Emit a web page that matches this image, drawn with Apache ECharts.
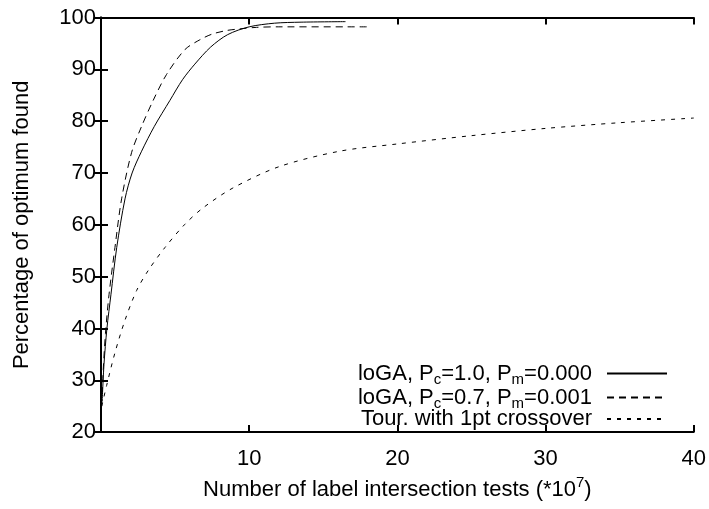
<!DOCTYPE html>
<html>
<head>
<meta charset="utf-8">
<script src="https://cdn.jsdelivr.net/npm/echarts@6/dist/echarts.min.js"></script>
<style>
  html, body { margin: 0; padding: 0; background: #fff; }
  #chart { width: 709px; height: 509px; }
</style>
</head>
<body>
<div id="chart"></div>
<script>
// values
var xFull = [0.08, 0.2, 0.4, 0.67, 1.06, 1.62, 2.1, 2.74, 3.6, 4.65, 5.5, 6.33, 7.4, 8.55, 10, 11.7, 13.5, 16.5];
var yFull = [26, 33, 40, 46.5, 55.6, 65, 70, 74.2, 79, 84, 88, 91, 94.3, 96.7, 98.2, 98.9, 99.1, 99.2];

var xMut = [0.05, 0.15, 0.3, 0.54, 0.94, 1.39, 2.07, 2.74, 3.52, 4.42, 5.66, 6.67, 7.5, 8.5, 9.36, 10.5, 12, 18.1];
var yMut = [25, 32, 39, 46.5, 55.6, 65, 74, 79, 84, 89, 93.8, 95.7, 96.8, 97.5, 97.8, 98.1, 98.2, 98.2];

var xTour = [0.05, 0.38, 0.94, 1.62, 2.4, 3.19, 4.31, 5.66, 6.9, 8.9, 12, 16.1, 20, 25, 30, 35, 40];
var yTour = [25, 29, 35.3, 41.6, 47.3, 51.2, 55.6, 60.1, 63.3, 67.1, 71.2, 74.2, 75.6, 77.2, 78.6, 79.7, 80.6];

var names = [
  'loGA, P{sub|c}=1.0, P{sub|m}=0.000',
  'loGA, P{sub|c}=0.7, P{sub|m}=0.001',
  'Tour. with 1pt crossover'
];
var xTicks = [0, 10, 20, 30, 40];
var yTicks = [20, 30, 40, 50, 60, 70, 80, 90, 100];

function pairs(xs, ys) {
  var out = [];
  for (var i = 0; i < xs.length; i++) out.push([xs[i], ys[i]]);
  return out;
}

var font = "'Liberation Sans', Arial, sans-serif";
var black = '#000';

var chart = echarts.init(document.getElementById('chart'));

var subStyle = { fontSize: 15, fontFamily: font, color: black, padding: [12, 0, 0, 0], lineHeight: 10 };

function frameAxis(extra) {
  var a = {
    type: 'value',
    axisLine: { show: true, lineStyle: { color: black, width: 2 } },
    axisTick: { show: true, inside: true, length: 7, lineStyle: { color: black, width: 2 } },
    splitLine: { show: false },
    axisLabel: { show: false }
  };
  for (var k in extra) a[k] = extra[k];
  return a;
}

function curve(name, xs, ys, dash) {
  return {
    name: name, type: 'line', data: pairs(xs, ys),
    symbol: 'none', smooth: 0.3,
    lineStyle: { color: black, width: 1, type: dash }, itemStyle: { color: black }
  };
}

var option = {
  backgroundColor: '#fff',
  animation: false,
  textStyle: { fontFamily: font },
  grid: { left: 101, right: 14, top: 17.5, bottom: 72, containLabel: false },
  legend: {
    orient: 'vertical',
    right: 36,
    top: 355,
    align: 'right',
    itemWidth: 60,
    itemHeight: 14,
    itemGap: -3,
    selectedMode: false,
    data: names,
    itemStyle: { opacity: 0 },
    textStyle: {
      fontSize: 22, fontFamily: font, color: black, lineHeight: 22,
      padding: [0, 10, 0, 0],
      rich: { sub: subStyle }
    }
  },
  xAxis: [
    frameAxis({
      position: 'bottom', min: 0, max: 40, interval: 10,
      name: 'Number of label intersection tests (*10{sup|7})',
      nameLocation: 'middle',
      nameGap: 34,
      nameTextStyle: {
        fontSize: 22, fontFamily: font, color: black,
        rich: { sup: { fontSize: 15, fontFamily: font, color: black, padding: [0, 0, 14, 0], lineHeight: 10 } }
      },
      axisLabel: {
        show: true, fontSize: 22, fontFamily: font, color: black, margin: 16,
        formatter: function (v) { return v === xTicks[0] ? '' : String(v); }
      }
    }),
    frameAxis({ position: 'top', min: 0, max: 40, interval: 10 })
  ],
  yAxis: [
    frameAxis({
      position: 'left', min: 20, max: 100, interval: 10,
      name: 'Percentage of optimum found',
      nameLocation: 'middle',
      nameGap: 68,
      nameRotate: 90,
      nameTextStyle: { fontSize: 22, fontFamily: font, color: black },
      axisLabel: { show: true, fontSize: 22, fontFamily: font, color: black, margin: 5 }
    }),
    frameAxis({ position: 'right', min: 20, max: 100, interval: 10 })
  ],
  series: [
    curve(names[0], xFull, yFull, 'solid'),
    curve(names[1], xMut, yMut, [7, 5]),
    curve(names[2], xTour, yTour, [4, 6])
  ]
};

chart.setOption(option);
</script>
</body>
</html>
